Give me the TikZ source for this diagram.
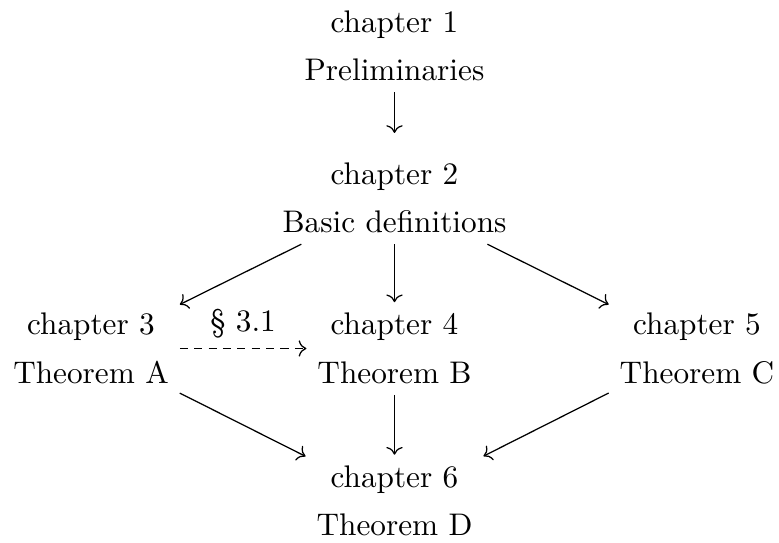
\documentclass[tikz,border=0pt]{standalone}
\usepackage{amsmath,amssymb}
\usepackage{tikz}
\usetikzlibrary{positioning,arrows.meta}
\newcommand{\chapt}[2]{chapter~$#1$\\[3.5pt]#2}

\begin{document}
\begin{tikzpicture}[x=0.32pt,y=-0.32pt,
        every node/.style={align=center},
        chap/.style={inner sep=3.33pt},
      ]
      \useasboundingbox (0,0) rectangle (779,543);
      \node[chap] (c1) at (394.5,46) {\chapt{1}{Preliminaries}};
      \node[chap] (c2) at (394.5,198) {\chapt{2}{Basic definitions}};
      \node[chap] (c3) at (91,348.5) {\chapt{3}{Theorem A}};
      \node[chap] (c4) at (394.5,348.5) {\chapt{4}{Theorem B}};
      \node[chap] (c5) at (697,348.5) {\chapt{5}{Theorem C}};
      \node[chap] (c6) at (394.5,501) {\chapt{6}{Theorem D}};
      \draw[->,shorten >=6pt] (c1)--(c2);
      \draw[->] (c2)--(c3); \draw[->] (c2)--(c4); \draw[->] (c2)--(c5);
      \draw[->,dash pattern=on 2.6pt off 2pt] (c3)--node[above,inner sep=3pt]{\S~$3.1$} (c4);
      \draw[->] (c3)--(c6); \draw[->] (c4)--(c6); \draw[->] (c5)--(c6);
    \end{tikzpicture}
\end{document}
